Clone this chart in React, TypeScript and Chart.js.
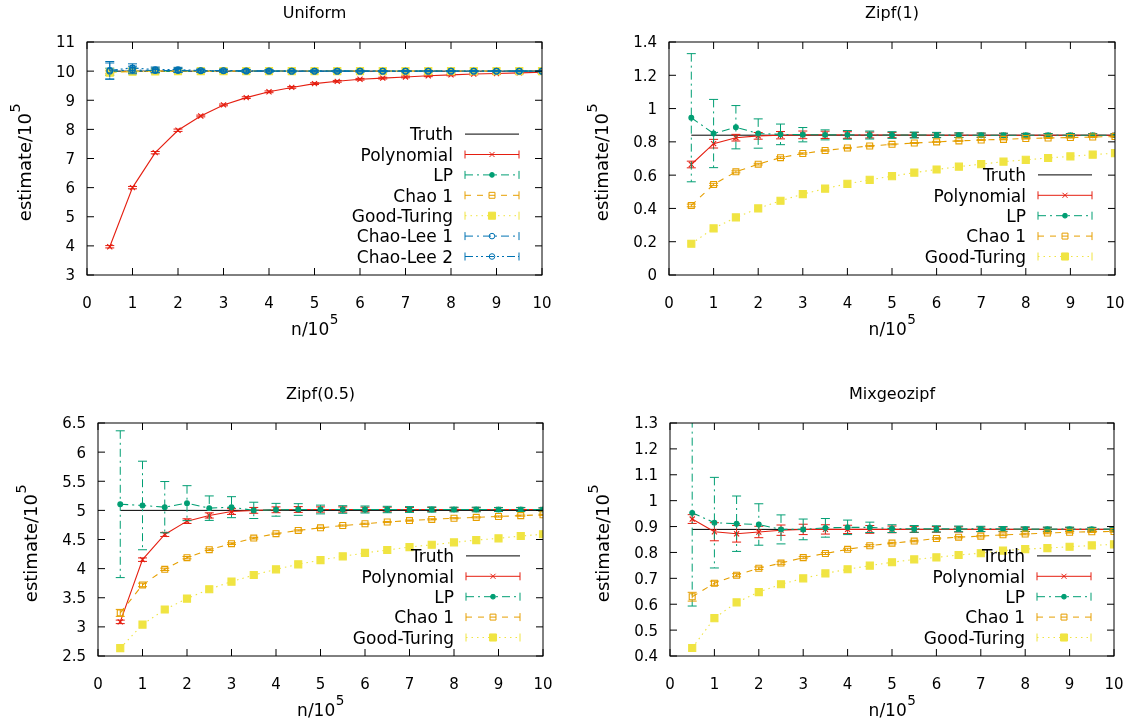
import React, { useEffect, useRef } from 'react';
import { Chart, registerables } from 'chart.js';

Chart.register(...registerables);

const W = 1133;
const H = 722;
const FONT = '"DejaVu Sans", "Liberation Sans", sans-serif';

// ---------- data ----------
const N_VALUES = [0.5, 1, 1.5, 2, 2.5, 3, 3.5, 4, 4.5, 5, 5.5, 6, 6.5, 7, 7.5, 8, 8.5, 9, 9.5, 10];
const TRUTH_N = [0.5, 10];
const X_TICKS = [0, 1, 2, 3, 4, 5, 6, 7, 8, 9, 10];

// Uniform
const U_Y_TICKS = [3, 4, 5, 6, 7, 8, 9, 10, 11];
const U_TRUTH = [10, 10];
const U_POLY = [3.97, 6.0, 7.2, 7.97, 8.46, 8.84, 9.09, 9.29, 9.44, 9.57, 9.65, 9.72, 9.76, 9.8, 9.84, 9.87, 9.9, 9.92, 9.94, 9.96];
const U_POLY_ERR = [0.04, 0.04, 0.04, 0.04, 0.03, 0.03, 0.03, 0.03, 0.03, 0.03, 0.03, 0.03, 0.03, 0.03, 0.03, 0.03, 0.03, 0.03, 0.03, 0.03];
const U_LP = [9.98, 10.02, 10.0, 10.0, 10.0, 10.0, 10.0, 10.0, 10.0, 10.0, 10.0, 10.0, 10.0, 10.0, 10.0, 10.0, 10.0, 10.0, 10.0, 10.0];
const U_LP_ERR = [0.12, 0.08, 0.05, 0.04, 0.03, 0.03, 0.03, 0.02, 0.02, 0.02, 0.02, 0.02, 0.02, 0.02, 0.02, 0.02, 0.02, 0.02, 0.02, 0.02];
const U_CHAO1 = [9.96, 9.99, 10.0, 10.0, 10.0, 10.0, 10.0, 10.0, 10.0, 10.0, 10.0, 10.0, 10.0, 10.0, 10.0, 10.0, 10.0, 10.0, 10.0, 10.0];
const U_CHAO1_ERR = [0.05, 0.03, 0.02, 0.02, 0.02, 0.02, 0.02, 0.02, 0.02, 0.02, 0.02, 0.02, 0.02, 0.02, 0.02, 0.02, 0.02, 0.02, 0.02, 0.02];
const U_GT = [9.95, 9.98, 9.99, 10.0, 10.0, 10.0, 10.0, 10.0, 10.0, 10.0, 10.0, 10.0, 10.0, 10.0, 10.0, 10.0, 10.0, 10.0, 10.0, 10.0];
const U_CL1 = [10.0, 10.04, 10.02, 10.02, 10.01, 10.01, 10.0, 10.0, 10.0, 10.0, 10.0, 10.0, 10.0, 10.0, 10.0, 10.0, 10.0, 10.0, 10.0, 10.0];
const U_CL1_ERR = [0.28, 0.13, 0.08, 0.07, 0.05, 0.04, 0.04, 0.03, 0.03, 0.03, 0.03, 0.02, 0.02, 0.02, 0.02, 0.02, 0.02, 0.02, 0.02, 0.02];
const U_CL2 = [10.03, 10.11, 10.05, 10.05, 10.02, 10.02, 10.01, 10.01, 10.0, 10.0, 10.0, 10.0, 10.0, 10.0, 10.0, 10.0, 10.0, 10.0, 10.0, 10.0];
const U_CL2_ERR = [0.3, 0.14, 0.09, 0.08, 0.05, 0.05, 0.04, 0.04, 0.03, 0.03, 0.03, 0.03, 0.02, 0.02, 0.02, 0.02, 0.02, 0.02, 0.02, 0.02];

// Zipf(1)
const Z1_Y_TICKS = [0, 0.2, 0.4, 0.6, 0.8, 1, 1.2, 1.4];
const Z1_TRUTH = [0.84, 0.84];
const Z1_POLY = [0.664, 0.789, 0.825, 0.836, 0.84, 0.842, 0.842, 0.841, 0.841, 0.841, 0.841, 0.84, 0.84, 0.84, 0.84, 0.84, 0.84, 0.84, 0.84, 0.84];
const Z1_POLY_ERR = [0.02, 0.026, 0.02, 0.02, 0.022, 0.023, 0.022, 0.02, 0.018, 0.016, 0.015, 0.014, 0.013, 0.012, 0.011, 0.01, 0.01, 0.009, 0.009, 0.008];
const Z1_LP = [0.945, 0.85, 0.888, 0.85, 0.845, 0.843, 0.842, 0.842, 0.841, 0.841, 0.841, 0.841, 0.84, 0.84, 0.84, 0.84, 0.84, 0.84, 0.84, 0.84];
const Z1_LP_ERR = [0.385, 0.205, 0.13, 0.088, 0.062, 0.043, 0.03, 0.026, 0.024, 0.02, 0.018, 0.016, 0.014, 0.013, 0.012, 0.011, 0.01, 0.01, 0.009, 0.009];
const Z1_CHAO1 = [0.418, 0.544, 0.62, 0.666, 0.705, 0.73, 0.748, 0.763, 0.775, 0.785, 0.793, 0.8, 0.806, 0.811, 0.815, 0.82, 0.823, 0.826, 0.829, 0.832];
const Z1_CHAO1_ERR = [0.008, 0.007, 0.006, 0.005, 0.005, 0.004, 0.004, 0.004, 0.004, 0.003, 0.003, 0.003, 0.003, 0.003, 0.003, 0.003, 0.003, 0.003, 0.003, 0.003];
const Z1_GT = [0.188, 0.28, 0.346, 0.4, 0.446, 0.486, 0.519, 0.548, 0.572, 0.594, 0.615, 0.634, 0.651, 0.666, 0.681, 0.692, 0.703, 0.713, 0.723, 0.732];

// Zipf(0.5)
const Z05_Y_TICKS = [2.5, 3, 3.5, 4, 4.5, 5, 5.5, 6, 6.5];
const Z05_TRUTH = [5.0, 5.0];
const Z05_POLY = [3.086, 4.154, 4.587, 4.815, 4.913, 4.98, 5.0, 5.01, 5.015, 5.015, 5.015, 5.015, 5.015, 5.015, 5.015, 5.015, 5.015, 5.015, 5.015, 5.015];
const Z05_POLY_ERR = [0.03, 0.03, 0.035, 0.04, 0.045, 0.05, 0.05, 0.05, 0.05, 0.045, 0.045, 0.04, 0.04, 0.035, 0.035, 0.03, 0.03, 0.03, 0.03, 0.025];
const Z05_LP = [5.106, 5.084, 5.055, 5.124, 5.038, 5.055, 5.0, 5.01, 5.015, 5.015, 5.015, 5.015, 5.015, 5.015, 5.015, 5.015, 5.015, 5.015, 5.015, 5.015];
const Z05_LP_ERR = [1.26, 0.76, 0.44, 0.3, 0.21, 0.18, 0.14, 0.11, 0.1, 0.075, 0.065, 0.06, 0.055, 0.05, 0.045, 0.04, 0.04, 0.035, 0.035, 0.03];
const Z05_CHAO1 = [3.24, 3.72, 3.988, 4.188, 4.325, 4.428, 4.524, 4.6, 4.656, 4.7, 4.74, 4.77, 4.8, 4.825, 4.845, 4.865, 4.88, 4.895, 4.91, 4.925];
const Z05_CHAO1_ERR = [0.06, 0.03, 0.02, 0.02, 0.015, 0.015, 0.015, 0.01, 0.01, 0.01, 0.01, 0.01, 0.01, 0.01, 0.01, 0.01, 0.01, 0.01, 0.01, 0.01];
const Z05_GT = [2.635, 3.04, 3.298, 3.486, 3.646, 3.777, 3.89, 3.988, 4.074, 4.147, 4.21, 4.27, 4.32, 4.37, 4.41, 4.45, 4.49, 4.52, 4.56, 4.59];

// Mixgeozipf
const MG_Y_TICKS = [0.4, 0.5, 0.6, 0.7, 0.8, 0.9, 1, 1.1, 1.2, 1.3];
const MG_TRUTH = [0.889, 0.889];
const MG_POLY = [0.929, 0.88, 0.872, 0.879, 0.886, 0.889, 0.889, 0.889, 0.889, 0.889, 0.889, 0.889, 0.889, 0.889, 0.889, 0.889, 0.889, 0.889, 0.889, 0.889];
const MG_POLY_ERR = [0.017, 0.035, 0.032, 0.022, 0.02, 0.02, 0.018, 0.016, 0.015, 0.013, 0.012, 0.011, 0.01, 0.009, 0.009, 0.008, 0.008, 0.007, 0.007, 0.006];
const MG_LP = [0.953, 0.915, 0.911, 0.908, 0.889, 0.889, 0.895, 0.897, 0.897, 0.892, 0.891, 0.891, 0.891, 0.891, 0.891, 0.89, 0.89, 0.89, 0.89, 0.89];
const MG_LP_ERR = [0.36, 0.175, 0.107, 0.08, 0.056, 0.04, 0.036, 0.028, 0.02, 0.015, 0.013, 0.012, 0.011, 0.01, 0.009, 0.009, 0.008, 0.008, 0.007, 0.007];
const MG_CHAO1 = [0.629, 0.681, 0.712, 0.739, 0.759, 0.78, 0.796, 0.812, 0.826, 0.836, 0.844, 0.854, 0.859, 0.863, 0.868, 0.871, 0.875, 0.878, 0.88, 0.881];
const MG_CHAO1_ERR = [0.017, 0.008, 0.006, 0.005, 0.005, 0.004, 0.004, 0.004, 0.004, 0.003, 0.003, 0.003, 0.003, 0.003, 0.003, 0.003, 0.003, 0.003, 0.003, 0.003];
const MG_GT = [0.431, 0.546, 0.607, 0.647, 0.677, 0.7, 0.719, 0.735, 0.749, 0.762, 0.773, 0.781, 0.79, 0.797, 0.807, 0.813, 0.817, 0.822, 0.827, 0.831];

// ---------- styles ----------
const STYLE: Record<string, any> = {
  truth: { label: 'Truth', color: '#000000', dash: [], point: null, radius: 0, fill: false },
  poly: { label: 'Polynomial', color: '#e51e10', dash: [], point: 'crossRot', radius: 3.6, fill: false },
  lp: { label: 'LP', color: '#009e73', dash: [8, 4, 2, 4], point: 'circle', radius: 2.4, fill: true },
  chao1: { label: 'Chao 1', color: '#e69f00', dash: [6, 6], point: 'rect', radius: 4.2, fill: false },
  gt: { label: 'Good-Turing', color: '#f0e442', dash: [1.5, 4], point: 'rect', radius: 5, fill: true },
  cl1: { label: 'Chao-Lee 1', color: '#0072b2', dash: [8, 4, 2, 4], point: 'circle', radius: 2.8, fill: false },
  cl2: { label: 'Chao-Lee 2', color: '#0072b2', dash: [8, 3, 2, 3, 2, 3], point: 'circle', radius: 2.8, fill: false },
};

type Series = { key: string; y: number[]; err?: number[] };
type PanelDef = {
  title: string;
  box: { l: number; t: number; r: number; b: number };
  yMin: number;
  yMax: number;
  yTicks: number[];
  truth: number[];
  series: Series[];
};

const PANELS: PanelDef[] = [
  {
    title: 'Uniform', box: { l: 87, t: 42, r: 542, b: 275 }, yMin: 3, yMax: 11, yTicks: U_Y_TICKS, truth: U_TRUTH,
    series: [
      { key: 'poly', y: U_POLY, err: U_POLY_ERR },
      { key: 'lp', y: U_LP, err: U_LP_ERR },
      { key: 'chao1', y: U_CHAO1, err: U_CHAO1_ERR },
      { key: 'gt', y: U_GT },
      { key: 'cl1', y: U_CL1, err: U_CL1_ERR },
      { key: 'cl2', y: U_CL2, err: U_CL2_ERR },
    ],
  },
  {
    title: 'Zipf(1)', box: { l: 669, t: 42, r: 1115, b: 275 }, yMin: 0, yMax: 1.4, yTicks: Z1_Y_TICKS, truth: Z1_TRUTH,
    series: [
      { key: 'poly', y: Z1_POLY, err: Z1_POLY_ERR },
      { key: 'lp', y: Z1_LP, err: Z1_LP_ERR },
      { key: 'chao1', y: Z1_CHAO1, err: Z1_CHAO1_ERR },
      { key: 'gt', y: Z1_GT },
    ],
  },
  {
    title: 'Zipf(0.5)', box: { l: 98, t: 423, r: 543, b: 656 }, yMin: 2.5, yMax: 6.5, yTicks: Z05_Y_TICKS, truth: Z05_TRUTH,
    series: [
      { key: 'poly', y: Z05_POLY, err: Z05_POLY_ERR },
      { key: 'lp', y: Z05_LP, err: Z05_LP_ERR },
      { key: 'chao1', y: Z05_CHAO1, err: Z05_CHAO1_ERR },
      { key: 'gt', y: Z05_GT },
    ],
  },
  {
    title: 'Mixgeozipf', box: { l: 670, t: 423, r: 1114, b: 656 }, yMin: 0.4, yMax: 1.3, yTicks: MG_Y_TICKS, truth: MG_TRUTH,
    series: [
      { key: 'poly', y: MG_POLY, err: MG_POLY_ERR },
      { key: 'lp', y: MG_LP, err: MG_LP_ERR },
      { key: 'chao1', y: MG_CHAO1, err: MG_CHAO1_ERR },
      { key: 'gt', y: MG_GT },
    ],
  },
];

const TICK_LEN = 7;
const CAP = 4.5;
const TICK_FONT = 15;
const TITLE_FONT = 16;
const XLABEL_FONT = 17;
const YLABEL_FONT = 18;
const KEY_FONT = 17;

function drawMarker(ctx: CanvasRenderingContext2D, st: any, x: number, y: number) {
  if (!st.point) return;
  ctx.save();
  ctx.setLineDash([]);
  ctx.lineWidth = 1;
  ctx.strokeStyle = st.color;
  ctx.fillStyle = st.color;
  const r = st.radius;
  ctx.beginPath();
  if (st.point === 'crossRot') {
    const o = r * Math.SQRT1_2;
    ctx.moveTo(x - o, y - o); ctx.lineTo(x + o, y + o);
    ctx.moveTo(x + o, y - o); ctx.lineTo(x - o, y + o);
    ctx.stroke();
  } else if (st.point === 'circle') {
    ctx.arc(x, y, r, 0, Math.PI * 2);
    if (st.fill) ctx.fill();
    ctx.stroke();
  } else if (st.point === 'rect') {
    const s = r * Math.SQRT1_2;
    ctx.rect(x - s, y - s, 2 * s, 2 * s);
    if (st.fill) ctx.fill();
    ctx.stroke();
  }
  ctx.restore();
}

function drawSupText(ctx: CanvasRenderingContext2D, base: string, sup: string, cx: number, by: number, size: number) {
  const supSize = size * 0.8;
  ctx.font = `${size}px ${FONT}`;
  const w1 = ctx.measureText(base).width;
  ctx.font = `${supSize}px ${FONT}`;
  const w2 = ctx.measureText(sup).width;
  const x0 = cx - (w1 + w2) / 2;
  ctx.textAlign = 'left';
  ctx.textBaseline = 'alphabetic';
  ctx.font = `${size}px ${FONT}`;
  ctx.fillText(base, x0, by);
  ctx.font = `${supSize}px ${FONT}`;
  ctx.fillText(sup, x0 + w1 + 0.5, by - size * 0.62);
}

function fmt(v: number) {
  return String(Math.round(v * 100) / 100);
}

function makePlugin(panel: PanelDef) {
  return {
    id: 'gnuplotLook',
    beforeDatasetDraw(chart: any, args: any) {
      const ds = chart.data.datasets[args.index];
      if (!ds.errs) return;
      const { ctx, chartArea: a } = chart;
      const xs = chart.scales.x;
      const ys = chart.scales.y;
      ctx.save();
      ctx.beginPath();
      ctx.rect(a.left, a.top, a.right - a.left, a.bottom - a.top);
      ctx.clip();
      ctx.strokeStyle = ds.borderColor;
      ctx.lineWidth = 1;
      ds.data.forEach((p: any, i: number) => {
        const e = ds.errs[i];
        if (e == null) return;
        const px = xs.getPixelForValue(p.x);
        const y1 = ys.getPixelForValue(p.y + e);
        const y2 = ys.getPixelForValue(p.y - e);
        ctx.setLineDash(ds.borderDash || []);
        ctx.beginPath();
        ctx.moveTo(px, y1);
        ctx.lineTo(px, y2);
        ctx.stroke();
        ctx.setLineDash([]);
        ctx.beginPath();
        ctx.moveTo(px - CAP, y1); ctx.lineTo(px + CAP, y1);
        ctx.moveTo(px - CAP, y2); ctx.lineTo(px + CAP, y2);
        ctx.stroke();
      });
      ctx.restore();
    },
    afterDraw(chart: any) {
      const { ctx, chartArea: a } = chart;
      const xs = chart.scales.x;
      const ys = chart.scales.y;
      ctx.save();
      ctx.setLineDash([]);
      ctx.strokeStyle = '#000';
      ctx.fillStyle = '#000';
      ctx.lineWidth = 1;
      // frame
      ctx.strokeRect(a.left, a.top, a.right - a.left, a.bottom - a.top);
      // ticks
      ctx.beginPath();
      X_TICKS.forEach((v) => {
        const x = xs.getPixelForValue(v);
        ctx.moveTo(x, a.bottom); ctx.lineTo(x, a.bottom - TICK_LEN);
        ctx.moveTo(x, a.top); ctx.lineTo(x, a.top + TICK_LEN);
      });
      panel.yTicks.forEach((v) => {
        const y = ys.getPixelForValue(v);
        ctx.moveTo(a.left, y); ctx.lineTo(a.left + TICK_LEN, y);
        ctx.moveTo(a.right, y); ctx.lineTo(a.right - TICK_LEN, y);
      });
      ctx.stroke();
      // tick labels
      ctx.font = `${TICK_FONT}px ${FONT}`;
      ctx.textBaseline = 'alphabetic';
      ctx.textAlign = 'center';
      X_TICKS.forEach((v) => {
        ctx.fillText(fmt(v), xs.getPixelForValue(v), a.bottom + 32.5);
      });
      ctx.textAlign = 'right';
      let maxW = 0;
      panel.yTicks.forEach((v) => {
        const s = fmt(v);
        maxW = Math.max(maxW, ctx.measureText(s).width);
        ctx.fillText(s, a.left - 12, ys.getPixelForValue(v) + TICK_FONT * 0.365);
      });
      // title
      ctx.font = `${TITLE_FONT}px ${FONT}`;
      ctx.textAlign = 'center';
      ctx.fillText(panel.title, (a.left + a.right) / 2, a.top - 24);
      // x label
      drawSupText(ctx, 'n/10', '5', (a.left + a.right) / 2, a.bottom + 60, XLABEL_FONT);
      // y label
      ctx.save();
      ctx.translate(a.left - 12 - maxW - 25, (a.top + a.bottom) / 2 + 4);
      ctx.rotate(-Math.PI / 2);
      drawSupText(ctx, 'estimate/10', '5', 0, 0, YLABEL_FONT);
      ctx.restore();
      // legend
      const keys = ['truth', ...panel.series.map((s) => s.key)];
      const rowH = 20.4;
      const textRight = a.right - 89;
      const x0 = a.right - 77;
      const x1 = a.right - 23;
      keys.forEach((k, i) => {
        const st = STYLE[k];
        const y = a.bottom - 18.5 - (keys.length - 1 - i) * rowH;
        ctx.font = `${KEY_FONT}px ${FONT}`;
        ctx.textAlign = 'right';
        ctx.fillStyle = '#000';
        ctx.fillText(st.label, textRight, y + KEY_FONT * 0.365);
        ctx.strokeStyle = st.color;
        ctx.lineWidth = 1;
        ctx.setLineDash(st.dash);
        ctx.beginPath();
        ctx.moveTo(x0, y); ctx.lineTo(x1, y);
        ctx.stroke();
        ctx.setLineDash([]);
        if (k !== 'truth') {
          ctx.beginPath();
          ctx.moveTo(x0, y - 4); ctx.lineTo(x0, y + 4);
          ctx.moveTo(x1, y - 4); ctx.lineTo(x1, y + 4);
          ctx.stroke();
        }
        drawMarker(ctx, st, (x0 + x1) / 2, y);
      });
      ctx.restore();
    },
  };
}

function buildConfig(panel: PanelDef): any {
  const datasets: any[] = [
    {
      label: STYLE.truth.label,
      data: TRUTH_N.map((x, i) => ({ x, y: panel.truth[i] })),
      borderColor: STYLE.truth.color,
      borderWidth: 1,
      pointRadius: 0,
      order: 0,
    },
    ...panel.series.map((s, i) => {
      const st = STYLE[s.key];
      return {
        label: st.label,
        data: N_VALUES.map((x, j) => ({ x, y: s.y[j] })),
        errs: s.err,
        borderColor: st.color,
        borderDash: st.dash,
        borderWidth: 1.1,
        pointStyle: st.point,
        pointRadius: st.radius,
        pointBorderWidth: 1.1,
        pointBorderColor: st.color,
        pointBackgroundColor: st.fill ? st.color : 'rgba(0,0,0,0)',
        order: -(i + 1),
      };
    }),
  ];
  const { l, t, r, b } = panel.box;
  return {
    type: 'line',
    data: { datasets },
    options: {
      responsive: false,
      animation: false,
      devicePixelRatio: 1,
      layout: { padding: { left: l, top: t, right: W - r, bottom: H - b } },
      elements: { line: { tension: 0 } },
      scales: {
        x: { type: 'linear', min: 0, max: 10, display: false },
        y: { type: 'linear', min: panel.yMin, max: panel.yMax, display: false },
      },
      plugins: { legend: { display: false }, tooltip: { enabled: false }, title: { display: false } },
    },
    plugins: [makePlugin(panel)],
  };
}

function Panel({ panel }: { panel: PanelDef }) {
  const ref = useRef<HTMLCanvasElement>(null);
  useEffect(() => {
    const chart = new Chart(ref.current as HTMLCanvasElement, buildConfig(panel));
    return () => chart.destroy();
  }, [panel]);
  return (
    <canvas
      ref={ref}
      width={W}
      height={H}
      style={{ position: 'absolute', left: 0, top: 0, width: W, height: H }}
    />
  );
}

export default function App() {
  return (
    <div style={{ position: 'absolute', left: 0, top: 0, width: W, height: H, background: '#ffffff', overflow: 'hidden' }}>
      {PANELS.map((p, i) => (
        <Panel key={i} panel={p} />
      ))}
    </div>
  );
}
